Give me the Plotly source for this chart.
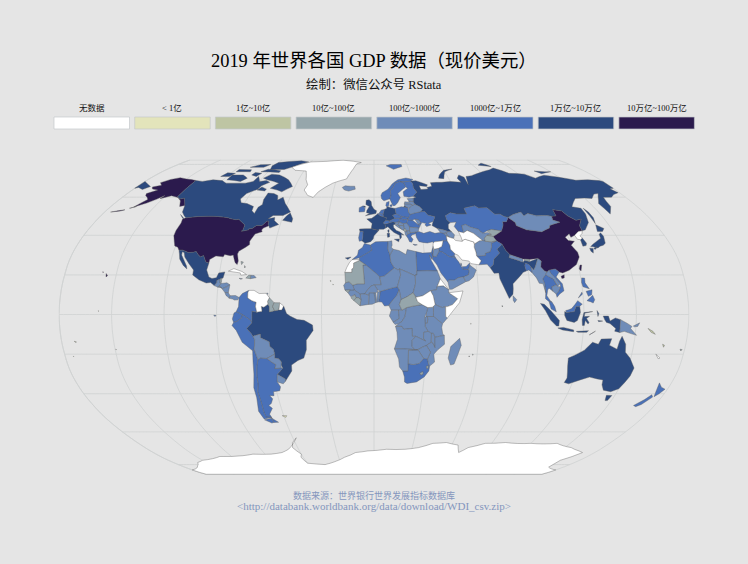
# -*- coding: utf-8 -*-
import plotly.graph_objects as go

W, H = 748, 564
BG = "#e5e5e5"
SERIF = "Liberation Serif, Noto Sans CJK SC, serif"

legend_labels = ["无数据", "< 1亿", "1亿~10亿", "10亿~100亿", "100亿~1000亿",
                 "1000亿~1万亿", "1万亿~10万亿", "10万亿~100万亿"]
legend_colors = ["#ffffff", "#e3e4bb", "#bec5a3", "#96a6ab",
                 "#6f8cb8", "#4a71b8", "#2c4a7e", "#2b1a4d"]

# countries per GDP class
no_data = ["ATA", "GRL", "VEN", "GUF", "CUB", "ESH", "SYR", "IRN", "TKM", "PRK", "ERI", "SSD", "SOM", "NCL", "PYF"]
under_1 = ["FLK", "KIR"]
from_1 = ["SLB", "VUT", "WSM", "TON", "CPV", "SYC"]
from_10 = ["MRT", "CAF", "GUY", "SUR", "KGZ", "TJK", "LSO", "SWZ", "GNB", "SLE", "LBR", "BTN", "MNE", "FJI", "BLZ", "HTI",
           "BHS", "MUS", "MDV"]
from_100 = ["ISL", "GTM", "HND", "SLV", "NIC", "CRI", "PAN", "DOM", "JAM", "BOL", "PRY", "URY", "LBY", "TUN", "MLI",
            "NER", "TCD", "SDN", "ETH", "KEN", "UGA", "RWA", "TZA", "CMR", "BEN", "TGO", "GHA", "BFA", "CIV", "GIN",
            "SEN", "GAB", "COG", "COD", "AGO", "ZMB", "MWI", "MOZ", "ZWE", "BWA", "NAM", "MDG", "HRV", "SVN", "BIH",
            "SRB", "ALB", "MKD", "BGR", "MDA", "BLR", "LTU", "LVA", "EST", "GEO", "ARM", "AZE", "LBN", "JOR", "YEM",
            "OMN", "UZB", "AFG", "NPL", "LKA", "MMR", "LAO", "KHM", "PNG", "MNG", "TTO"]
from_1000 = ["COL", "ECU", "PER", "ARG", "CHL", "IRL", "PRT", "BEL", "NLD", "CHE", "AUT", "CZE", "POL", "SVK", "HUN",
             "GRC", "ROU", "UKR", "DNK", "NOR", "SWE", "FIN", "TUR", "ISR", "IRQ", "KWT", "SAU", "ARE", "QAT", "KAZ",
             "PAK", "BGD", "THA", "VNM", "MYS", "PHL", "NZL", "MAR", "DZA", "EGY", "NGA", "ZAF"]
from_1w = ["CAN", "MEX", "BRA", "GBR", "FRA", "ESP", "DEU", "ITA", "RUS", "IND", "IDN", "JPN", "KOR", "AUS"]
from_10w = ["USA", "CHN"]
levels = [no_data, under_1, from_1, from_10, from_100, from_1000, from_1w, from_10w]

# rough country outlines in lon/lat, the built-in plotly map needs the network
outlines = {
    "USA": [
        [[-124.7,48.4],[-123,49],[-95.2,49],[-94.6,48.7],[-89.6,48],[-88,48.3],[-84.8,46.5],[-82.5,45.3],[-82.4,43],[-83.1,42.1],[-79,42.8],[-79,43.3],[-76.8,43.6],[-75,45],[-71.5,45],[-70.3,46.2],[-69.2,47.4],[-67.8,47.1],[-67.8,45.7],[-67,44.9],[-70,43.7],[-70.7,42.7],[-70,41.8],[-71.5,41.4],[-74,40.7],[-75.2,38.5],[-76,37],[-75.5,35.3],[-77.5,34],[-81,32],[-81.4,30.5],[-80.1,27],[-80.4,25.2],[-81.8,26.2],[-82.8,28],[-83.8,30],[-85.5,29.7],[-89,30.3],[-89.5,29.2],[-91,29.3],[-94,29.6],[-97.2,27.8],[-97.2,26],[-99.2,26.5],[-101.4,29.8],[-103,29],[-104.7,30.2],[-106.5,31.8],[-108.2,31.4],[-111,31.3],[-114.8,32.5],[-117.1,32.5],[-118.5,34],[-120.6,34.6],[-122,36.8],[-124,39.8],[-124.4,42.5],[-124,46.3]],
        [[-141,69.6],[-141,60.3],[-137.5,59],[-135,59.5],[-130,55.5],[-133,55],[-136,58],[-140,59.8],[-146,60.8],[-149,60],[-152,59.2],[-151,61],[-154,58.8],[-158,56.8],[-164,54.7],[-160,58.7],[-162,59.8],[-165,61],[-166,62],[-161,64],[-166,64.6],[-168,65.7],[-163,66.8],[-166.5,68.3],[-162,70.2],[-156.5,71.3],[-150,70.5]],
        [[-156,20.7],[-154.9,19.6],[-155.7,19]], [[-158.3,21.6],[-157.7,21.4],[-158.1,21.2]], [[-176,52],[-168,53.2],[-170,52.6]], [[-166,54],[-162.5,55],[-165,54.2]],
    ],
    "CAN": [
        [[-141,69.6],[-135,69],[-128,70],[-120,69.5],[-115,68],[-108,68],[-100,68],[-95,69],[-94,72],[-90,69],[-85,69.5],[-81.5,68.5],[-86,66.5],[-87,64.5],[-93,62],[-94.7,59],[-92.5,57],[-88,56.5],[-82.5,55],[-82,52.7],[-79.5,51.3],[-79,54.5],[-77,56],[-78,58.7],[-77.5,62.3],[-73,62],[-69.5,61],[-68,58.5],[-65,60],[-61.5,56.5],[-57,53],[-55.8,52],[-60,50.2],[-66.5,50.2],[-69,48.5],[-65,49.2],[-64.5,47.5],[-61,45.5],[-66,43.7],[-67,44.9],[-67.8,45.7],[-67.8,47.1],[-69.2,47.4],[-70.3,46.2],[-71.5,45],[-75,45],[-76.8,43.6],[-79,43.3],[-79,42.8],[-83.1,42.1],[-82.4,43],[-82.5,45.3],[-84.8,46.5],[-88,48.3],[-89.6,48],[-94.6,48.7],[-95.2,49],[-123,49],[-125,50],[-128,52],[-130,55.5],[-135,59.5],[-137.5,59],[-141,60.3]],
        [[-62,66],[-68,63],[-72,64],[-78,65],[-74,68],[-85,70],[-89,71],[-85,73.5],[-78,73],[-68,70]],
        [[-117,70],[-105,69],[-102,71],[-108,73],[-117,73]],
        [[-90,76.5],[-78,76.5],[-72,78.5],[-62,82],[-70,83],[-90,81.5],[-92,79]],
        [[-125,72],[-118,72],[-116,74],[-123,74.3]], [[-96,75],[-80,74.5],[-80,75.7],[-92,76.7]],
        [[-117,75],[-105,75],[-106,76.3],[-117,76.5]], [[-59.3,47.7],[-53,46.7],[-53,48.5],[-55.7,51.5],[-57.5,50]],
        [[-128,50.7],[-123.5,48.4],[-125,48.8]], [[-87,64],[-81,63.5],[-80.5,64.5],[-85,65.8]],
        [[-101,73],[-96,72],[-94,74],[-100,74.5]], [[-110,78],[-98,78],[-95,80],[-104,79.8]],
    ],
    "GRL": [[[-73,78],[-68,76],[-58,75.5],[-54,70],[-51,67],[-52,64],[-48,61],[-43.5,59.9],[-41,63],[-32,68],[-22,70.5],[-20,74],[-18,77],[-16,80.5],[-12,81.5],[-30,83.5],[-45,82.5],[-60,82],[-66,80.5]]],
    "MEX": [[[-117.1,32.5],[-114.8,32.5],[-111,31.3],[-108.2,31.4],[-106.5,31.8],[-104.7,30.2],[-103,29],[-101.4,29.8],[-99.2,26.5],[-97.2,26],[-97.8,22.5],[-95.9,18.9],[-94,18.2],[-91.5,18.6],[-90.5,21],[-87,21.5],[-87.6,18.5],[-89.2,17.9],[-91,17.2],[-90.9,16],[-92.2,14.6],[-94.5,16.2],[-97,15.9],[-101.5,17.5],[-105.5,20],[-105.5,22.5],[-109,25.8],[-112.3,29],[-113.5,31.3],[-114.8,31.7],[-114.5,30],[-110,24.5],[-109.5,23],[-112,24.8],[-115,28],[-116,30.5]]],
    "GTM": [[[-92.2,14.6],[-90.9,16],[-91,17.2],[-89.2,17.9],[-89,15.9],[-88.2,15.7],[-89.4,14.4],[-90,13.8]]],
    "BLZ": [[[-89.2,17.9],[-88.3,18.4],[-88.2,16.2],[-89,15.9]]],
    "HND": [[[-89.4,14.4],[-88.2,15.7],[-85,16],[-83.2,15],[-85,14],[-87.5,13]]],
    "SLV": [[[-90,13.8],[-89.4,14.4],[-87.7,13.5]]],
    "NIC": [[[-87.5,13],[-85,14],[-83.2,15],[-83.7,11],[-85.7,11.1]]],
    "CRI": [[[-85.7,11.1],[-83.7,11],[-82.6,9.5],[-83,8.2],[-85,9.7]]],
    "PAN": [[[-83,8.2],[-82.6,9.5],[-79.5,9.6],[-77.4,8.6],[-78,7.4],[-80,7.3],[-81,7.8]]],
    "CUB": [[[-85,21.9],[-82,23.2],[-77,21.7],[-74.2,20.2],[-77.5,19.9],[-78,21]]],
    "HTI": [[[-74.4,18.4],[-72.8,19.9],[-71.7,19.8],[-71.7,18.1]]],
    "DOM": [[[-71.7,19.8],[-69.7,19.7],[-68.4,18.6],[-71.7,18.1]]],
    "JAM": [[[-78.3,18.3],[-76.3,18.1],[-77.2,17.8]]],
    "BHS": [[[-78.5,26.8],[-77,26.5],[-77.8,25.2]], [[-76,24.7],[-75.3,24],[-75.8,23.5]]],
    "TTO": [[[-61.9,10.7],[-60.9,10.8],[-61,10.1]]],
    "COL": [[[-77.4,8.6],[-75.6,10.6],[-72,12.2],[-72.5,11],[-72.4,8.3],[-70,7],[-67.5,6.2],[-67.8,4],[-67,1.2],[-69.8,1.7],[-69.9,-4.2],[-70.8,-2.7],[-75.2,-0.1],[-78.8,1.4],[-77.5,4],[-77.4,7]]],
    "VEN": [[[-72,12.2],[-69,12.2],[-66,10.6],[-62,10.7],[-60,8.5],[-61,6.7],[-60.7,5.2],[-63,3.7],[-64.5,4.1],[-64,1.7],[-67,1.2],[-67.8,4],[-67.5,6.2],[-70,7],[-72.4,8.3],[-72.5,11]]],
    "GUY": [[[-60,8.5],[-57.2,6],[-58,4],[-56.8,1.9],[-59.8,1.3],[-59.9,4],[-60.7,5.2],[-61,6.7]]],
    "SUR": [[[-57.2,6],[-54,5.9],[-54.2,3.5],[-54.5,2.3],[-56.8,1.9],[-58,4]]],
    "GUF": [[[-54,5.9],[-51.7,4.3],[-52.8,2.3],[-54.5,2.3],[-54.2,3.5]]],
    "ECU": [[[-80,0.8],[-78.8,1.4],[-75.2,-0.1],[-75.6,-1.6],[-78.3,-3.4],[-80.3,-4],[-81,-2.2]], [[-91.6,-0.3],[-90.2,-0.5],[-91,-1]]],
    "PER": [[[-80.3,-4],[-78.3,-3.4],[-75.6,-1.6],[-75.2,-0.1],[-70.8,-2.7],[-69.9,-4.2],[-73,-7],[-70.6,-9.5],[-69.6,-11],[-68.7,-12.5],[-69,-15.5],[-69.5,-17.5],[-70.4,-18.3],[-76,-14],[-79,-8],[-81.3,-5.5]]],
    "BRA": [[[-51.7,4.3],[-50,0.5],[-48,-0.8],[-44,-2.5],[-40,-2.9],[-35.2,-5.3],[-34.9,-8],[-39,-13],[-39.2,-17.8],[-41,-22],[-44.5,-23.2],[-48.5,-25.5],[-48.7,-28.5],[-52,-32.2],[-53.4,-33.7],[-53.2,-32.5],[-57.6,-30.2],[-53.8,-27.1],[-54.6,-25.5],[-54.3,-24],[-55.7,-22.3],[-58,-22],[-57.8,-20],[-58.2,-17.7],[-60.2,-16.2],[-60.4,-13.8],[-65.3,-11.7],[-65.3,-9.8],[-69.6,-11],[-70.6,-9.5],[-73,-7],[-69.9,-4.2],[-69.8,1.7],[-67,1.2],[-64,1.7],[-64.5,4.1],[-63,3.7],[-60.7,5.2],[-59.9,4],[-59.8,1.3],[-56.8,1.9],[-54.5,2.3],[-52.8,2.3]]],
    "BOL": [[[-69.6,-11],[-65.3,-9.8],[-65.3,-11.7],[-60.4,-13.8],[-60.2,-16.2],[-58.2,-17.7],[-57.8,-20],[-62.6,-22.2],[-66.3,-21.9],[-67.9,-22.8],[-69.5,-17.5],[-69,-15.5],[-68.7,-12.5]]],
    "PRY": [[[-62.6,-22.2],[-57.8,-20],[-58,-22],[-55.7,-22.3],[-54.3,-24],[-54.6,-25.5],[-54.7,-27],[-58.6,-27.3],[-57.6,-25.3],[-60,-24]]],
    "URY": [[[-57.6,-30.2],[-53.2,-32.5],[-53.4,-33.7],[-55,-35],[-58.4,-34]]],
    "ARG": [[[-67.9,-22.8],[-66.3,-21.9],[-62.6,-22.2],[-60,-24],[-57.6,-25.3],[-58.6,-27.3],[-54.7,-27],[-53.8,-27.1],[-57.6,-30.2],[-58.4,-34],[-57,-36.5],[-58,-38.5],[-62,-39],[-62.3,-41],[-65,-41],[-63.7,-42.6],[-65.5,-45],[-67.5,-46],[-65.8,-47.5],[-69,-50.5],[-68.4,-52.3],[-71.9,-52],[-72.3,-50],[-71.6,-44],[-71.8,-39],[-70.3,-35],[-70,-31],[-69,-26]],
            [[-68.6,-52.6],[-65.2,-54.8],[-68.6,-54.9]]],
    "CHL": [[[-69.5,-17.5],[-67.9,-22.8],[-69,-26],[-70,-31],[-70.3,-35],[-71.8,-39],[-71.6,-44],[-72.3,-50],[-71.9,-52],[-68.4,-52.3],[-74,-53],[-75.5,-49],[-73.5,-42],[-73.5,-37],[-71.5,-30],[-70.4,-18.3]],
            [[-68.6,-52.6],[-68.6,-54.9],[-70,-55.2],[-74,-53.5]]],
    "FLK": [[[-61,-51.3],[-58,-51.3],[-59,-52.2]]],
    "ISL": [[[-24,65.5],[-22,64],[-18.7,63.4],[-14,64.5],[-14.7,66.2],[-18,66.2],[-22,66.4]]],
    "IRL": [[[-10,52],[-6.4,52.2],[-6,53.8],[-7.4,55.3],[-10,54.3]]],
    "GBR": [[[-5.6,50.1],[1.3,51.2],[1.7,52.7],[0,53.5],[-1.6,55.5],[-2,57.6],[-3.5,58.6],[-5.5,58.3],[-5.6,56],[-3.2,54.9],[-4.8,52.8],[-5,51.7],[-3,51.3]],
            [[-8,54.5],[-5.6,54.6],[-6.3,55.2],[-7.4,55.2]]],
    "FRA": [[[-1.8,43.4],[-1.2,46],[-4.7,48.4],[-1.5,48.7],[0.2,49.7],[2.5,51.1],[4.2,50],[6.1,49.5],[8.2,49],[7.6,47.6],[6,46.3],[7,45.8],[7.5,43.8],[6,43.1],[3.1,43.1],[3,42.5]],
            [[8.6,42.5],[9.5,43],[9.4,41.5],[8.8,41.6]]],
    "ESP": [[[-9.2,43.2],[-1.8,43.4],[3,42.5],[0,39.8],[-0.5,38.2],[-2,36.8],[-5.4,36],[-7.4,37.2],[-7,38.5],[-6.8,41.9],[-8.8,41.9]], [[-17,28.6],[-13.6,29],[-15.5,27.8]]],
    "PRT": [[[-8.8,41.9],[-6.8,41.9],[-7,38.5],[-7.4,37.2],[-9,37],[-9.5,38.8]]],
    "BEL": [[[2.5,51.1],[4.2,51.4],[6,50.7],[6.1,49.5],[4.2,50]]],
    "NLD": [[[3.4,51.4],[4.8,53],[7,53.4],[6,50.8],[4.2,51.4]]],
    "DEU": [[[6,50.8],[7,53.4],[8.7,54],[8.7,54.9],[11,54.4],[14.2,53.9],[14.7,51],[12.2,50.3],[13.8,48.7],[10,47.4],[7.6,47.6],[8.2,49],[6.1,49.5]]],
    "CHE": [[[6,46.3],[7.6,47.6],[9.6,47.5],[10.4,46.6],[8.5,46],[7,45.8]]],
    "ITA": [[[7,45.8],[8.5,46],[10.4,46.6],[12.2,47],[13.7,46.5],[13.6,45.7],[12.3,45.3],[12.5,44],[14,42.5],[16,41.8],[18.5,40.2],[16.9,40.4],[17,39],[16,38],[15.8,40],[12.5,41.5],[10.5,43],[8.8,44.4],[7.5,43.8]],
            [[12.5,38],[15.6,38.2],[15.1,36.7]], [[8.2,41],[9.7,41],[9.6,39.2],[8.4,39]]],
    "AUT": [[[9.6,47.5],[10,47.4],[13.8,48.7],[17,48.8],[16.1,46.9],[13.7,46.5],[12.2,47],[10.4,46.6]]],
    "CZE": [[[12.2,50.3],[14.7,51],[18.8,49.5],[17,48.8],[13.8,48.7]]],
    "POL": [[[14.2,53.9],[18.6,54.8],[23,54.4],[23,52],[24,50.8],[22.7,49.1],[18.8,49.5],[14.7,51]]],
    "SVK": [[[17,48.8],[18.8,49.5],[22.7,49.1],[22.1,48.4],[18.8,47.8]]],
    "HUN": [[[16.1,46.9],[17,48.8],[18.8,47.8],[22.1,48.4],[21,46.2],[18.8,45.9]]],
    "SVN": [[[13.6,45.5],[13.7,46.5],[16.1,46.9],[15.5,45.6]]],
    "HRV": [[[13.6,45.2],[15.5,45.6],[16.1,46.9],[18.8,45.9],[19,45],[15.8,45],[17.5,43],[15,44.3]]],
    "BIH": [[[15.8,45],[19,45],[19.2,43.5],[18.5,42.5],[17.5,43]]],
    "SRB": [[[19,45],[18.8,45.9],[21,46.2],[22.5,44.2],[22.4,42.3],[20.5,42.3],[20.3,42.8],[19.2,43.5]]],
    "MNE": [[[18.5,42.5],[19.2,43.5],[20.3,42.8],[19.3,41.9]]],
    "ALB": [[[19.3,41.9],[20.5,42.3],[21,40.7],[20,39.7],[19.4,40.5]]],
    "MKD": [[[20.5,42.3],[22.4,42.3],[23,41.3],[21,40.9]]],
    "GRC": [[[20,39.7],[21,40.7],[23,41.3],[26.3,41.7],[26,40.8],[23.5,40.2],[22.8,39.3],[24,38],[23,36.5],[21.7,36.8],[21,38.4]],
            [[23.6,35.5],[26.3,35.2],[24.8,34.9]]],
    "BGR": [[[22.4,42.3],[22.5,44.2],[28.5,43.7],[27.7,42],[26.3,41.7],[23,41.3]]],
    "ROU": [[[21,46.2],[22.1,48],[24.9,47.8],[28.1,45.5],[29.6,45],[28.5,43.7],[22.5,44.2]]],
    "MDA": [[[26.6,48.3],[29,47.9],[30,46.4],[28.2,45.5]]],
    "UKR": [[[22.1,48.4],[22.7,49.1],[24,50.8],[27,51.5],[31,52.1],[34,52.3],[35.5,50.4],[40,49.6],[38.2,47.1],[35,46.2],[36.5,45.3],[33.5,44.5],[32.5,45.4],[33.5,46],[30.8,46.5],[29.7,45.3],[28.2,45.5],[30,46.4],[29,47.9],[26.6,48.3],[24.9,47.8],[22.1,48]]],
    "BLR": [[[23.5,53.9],[26,55.5],[28.2,56.1],[31,55],[32.7,53.4],[31,52.1],[27,51.5],[24,50.8],[23,52]]],
    "LTU": [[[21,55.3],[21,56.4],[25,56.4],[26.6,55.7],[26,55.5],[23.5,53.9],[23,54.4]]],
    "LVA": [[[21,56.4],[21.5,57.5],[24.4,57.3],[24.4,58],[27.4,57.5],[28.2,56.1],[26.6,55.7],[25,56.4]]],
    "EST": [[[23.5,59.2],[28,59.5],[27.4,57.5],[24.4,58]]],
    "DNK": [[[8.1,55.5],[8.7,57.1],[10.6,57.7],[10.3,56],[9.8,54.9],[8.7,54.9]], [[11,55.7],[12.5,56],[12.3,55],[11,55]]],
    "NOR": [[[5,61],[5.5,59],[7,58],[10.7,59],[11.2,59],[12.3,61],[12,63.5],[14.5,65.5],[16.5,68],[20.5,69],[25,68.8],[29,69.2],[31,70.2],[25.7,71.1],[19,70],[14,67.5],[10.5,64.5],[6,62.5]],
            [[11,79],[17,76.6],[25,78.5],[25,80],[15,80]]],
    "SWE": [[[11.2,59],[13,55.4],[14.5,55.5],[16.5,57],[18.8,59.8],[17.3,62],[21.5,64.5],[24.1,65.8],[23.6,67.9],[20.5,69],[16.5,68],[14.5,65.5],[12,63.5],[12.3,61]]],
    "FIN": [[[21.5,60.5],[25,60],[28,60.5],[31.5,62.8],[29.7,65.2],[30,67.7],[28.9,69],[29,69.2],[25,68.8],[20.5,69],[23.6,67.9],[24.1,65.8],[25.3,65],[21.5,63]]],
    "RUS": [
        [[28,59.5],[30,60],[28,60.5],[31.5,62.8],[29.7,65.2],[30,67.7],[28.9,69],[29,69.2],[33,69.4],[41,67],[40,66],[34.5,66.5],[35,64.3],[38,64.5],[40.5,64.6],[40,65.5],[44,66.2],[44,68.3],[53,68.5],[60,69],[68,68.5],[67,71],[70,73],[73,71.5],[72.5,67],[75,72],[80,72.5],[87,74],[100,76.3],[105,77.5],[113,74],[125,73.5],[130,71],[140,72.8],[150,71.5],[160,69.7],[170,70],[178,69.5],[180,69],[180,65],[177,64.7],[179,62.5],[174,61.5],[170,60],[164,59.9],[162.8,57.7],[162,55],[158,52],[156.7,51],[155.7,56.5],[158,58.2],[163.5,62],[160,61.7],[155,59.3],[150,59.5],[143,59.3],[135.2,54.8],[140.5,54],[140.3,51],[138,46.5],[133,42.8],[130.7,42.3],[131,44.9],[135,48.4],[131,47.7],[127.5,50],[126,52.6],[120.5,53.3],[119.8,50],[116.7,49.8],[114,50.2],[107,50],[102.2,51.3],[98.7,50],[98,52],[92,50.7],[87.8,49.2],[85.5,49.7],[83.4,51],[80,50.8],[76.8,54.3],[71,54.2],[69,55.3],[61,54],[61.5,51],[54.5,51],[50.8,51.7],[47,50],[47.3,48],[49,46.5],[47.5,45.5],[47,43.5],[48.5,41.8],[46.5,41.9],[43.5,42.8],[40,43.5],[37,45],[38.2,47.1],[40,49.6],[35.5,50.4],[34,52.3],[31,52.1],[32.7,53.4],[31,55],[28.2,56.1],[27.4,57.5]],
        [[-180,65],[-180,69],[-175,67.5],[-170,66],[-173,64.3],[-178,65.5]],
        [[142,54],[143.3,52],[143.5,49],[142,46],[142,50]], [[52,71],[56,70.7],[60,75],[68,76.8],[60,76],[54,73]],
        [[95,79.5],[105,78.5],[100,81]], [[137,75.5],[145,75],[150,75],[140,73.8]], [[20,54.4],[22.8,54.4],[21,55.3]],
    ],
    "TUR": [[[26,40.8],[26.3,41.7],[28,42],[31,41],[35,42],[38,41],[41.5,41.5],[43.5,41],[44.8,39.7],[44.8,37.2],[42.3,37.2],[37,36.7],[36,36],[36,36.8],[32.5,36.1],[30.5,36.3],[27.5,36.8],[26.2,39]]],
    "GEO": [[[40,43.5],[43.5,42.8],[46.5,41.9],[45,41.2],[43.5,41],[41.5,41.5]]],
    "ARM": [[[43.5,41],[45,41.2],[46.5,39],[44.8,39.7]]],
    "AZE": [[[45,41.2],[46.5,41.9],[48.5,41.8],[50,40.3],[49,38.4],[46.5,39]]],
    "SYR": [[[36,36],[37,36.7],[42.3,37.2],[41,34.4],[38.8,33.4],[36,33],[35.8,34.7]]],
    "LBN": [[[35.1,33.1],[36,33.3],[36.5,34.2],[35.8,34.7]]],
    "ISR": [[[34.3,31.3],[35,29.5],[35.5,31.5],[35.6,33.2],[35.1,33.1]]],
    "JOR": [[[35,29.5],[36.9,29.2],[37.5,30],[39,32],[38.8,33.4],[36,33],[35.5,31.5]]],
    "IRQ": [[[38.8,33.4],[41,34.4],[42.3,37.2],[44.8,37.2],[46,35],[46,33],[48.5,30.5],[47.7,30],[46.5,29.1],[44.7,29.2],[41,31.5],[39,32]]],
    "KWT": [[[46.5,29.1],[47.7,30],[48.4,28.5]]],
    "SAU": [[[34.6,28],[35,29.5],[36.9,29.2],[37.5,30],[39,32],[41,31.5],[44.7,29.2],[46.5,29.1],[48.4,28.5],[50,26.5],[51,24.6],[52,23],[55.2,22.7],[55.7,22],[55,20],[52,19],[49,18.6],[46.5,17.3],[43.3,17.4],[42.8,16.4],[39,21],[37,25]]],
    "YEM": [[[42.8,16.4],[43.3,17.4],[46.5,17.3],[49,18.6],[52,19],[53.1,16.6],[45,12.8],[43.5,12.7]]],
    "OMN": [[[52,19],[55,20],[55.7,22],[55.2,22.7],[56.3,24.9],[59.8,22.5],[57.8,19],[55,17],[53.1,16.6]]],
    "ARE": [[[51.6,24.1],[54,24.2],[56.3,26],[56.3,24.9],[55.2,22.7],[52,23]]],
    "QAT": [[[50.8,24.8],[51.2,26.1],[51.6,24.8]]],
    "IRN": [[[44.8,39.7],[46.5,39],[49,38.4],[50,37.4],[54,36.9],[54,37.4],[56,38],[61,36.6],[61,35.6],[60.5,34],[61,31.4],[61,29.5],[63.3,27.2],[61.6,25.1],[57,25.7],[56,27],[52,27.5],[50,30],[48.5,30.5],[46,33],[46,35],[44.8,37.2]]],
    "TKM": [[[53,41.5],[52.8,42],[56,41.3],[58.5,42.5],[62,41],[66.5,37.4],[64.5,37.2],[61,35.6],[61,36.6],[56,38],[54,37.4],[53.8,39]]],
    "UZB": [[[56,45],[56,41.3],[58.5,42.5],[62,41],[66.5,37.4],[68,37],[68,38.5],[70,40],[73,40.5],[71,41.5],[68,41],[66.5,42],[66,43],[61,44.2],[58.6,45.5]]],
    "KAZ": [[[47,50],[50.8,51.7],[54.5,51],[61.5,51],[61,54],[69,55.3],[71,54.2],[76.8,54.3],[80,50.8],[83.4,51],[85.5,49.7],[87.8,49.2],[85.5,47],[83,47],[82.5,45.3],[80,42.2],[74,43],[71,42.3],[68,41],[66.5,42],[66,43],[61,44.2],[58.6,45.5],[56,45],[56,41.3],[52.8,42],[51,44.5],[53,46.8],[49,46.5],[47.3,48]]],
    "KGZ": [[[71,42.3],[74,43],[80,42.2],[76,40.4],[73.6,39.4],[70,40],[73,40.5]]],
    "TJK": [[[68,38.5],[70,40],[73.6,39.4],[75,37.3],[71.5,36.7],[68,37]]],
    "AFG": [[[61,35.6],[64.5,37.2],[66.5,37.4],[68,37],[71.5,36.7],[74.8,37.2],[71.5,36],[71,34],[69.5,31.7],[66.5,31],[66.3,29.8],[61,29.5],[61,31.4],[60.5,34]]],
    "PAK": [[[61,29.5],[66.3,29.8],[66.5,31],[69.5,31.7],[71,34],[71.5,36],[74.8,37.2],[77.8,35.5],[74,33],[75,31],[71,28],[70,25],[68,23.7],[66.5,25.4],[61.6,25.1],[63.3,27.2]]],
    "IND": [[[68,23.7],[70,25],[71,28],[75,31],[74,33],[77.8,35.5],[79,32.5],[81,30.2],[80,28.8],[88,26.4],[88.9,27.3],[92,26.8],[97,28.3],[94.5,24],[93.3,22.5],[92,24],[91,25.2],[89,26],[88.5,24.5],[89,22],[87,21.3],[85,19.5],[80.3,15.5],[80.2,13],[79.8,10.3],[77.6,8.1],[75.5,12.5],[73,18],[72.8,21],[70,20.8]]],
    "NPL": [[[80,28.8],[81,30.2],[88,28],[88,26.4]]],
    "BTN": [[[88.9,27.3],[89,28],[92,27.8],[92,26.8]]],
    "BGD": [[[88.5,24.5],[89,26],[91,25.2],[92,24],[92.3,21],[90.5,22.5],[89,22]]],
    "LKA": [[[79.8,9.5],[81.8,7.5],[80.5,6],[79.8,7.2]]],
    "MDV": [[[73.2,4.5],[73.7,4.3],[73.4,3.8]]],
    "MMR": [[[92.3,21],[92,24],[93.3,22.5],[94.5,24],[97,28.3],[98.7,27],[97.7,24],[99.5,22],[101,21.5],[100,20.3],[97.8,18],[98.6,15.5],[98.7,11],[97.7,15.5],[95.5,15.8],[94.3,18.5]]],
    "THA": [[[97.8,18],[100,20.3],[101,19.5],[104,18],[105.5,15],[102.5,14],[102.9,11.7],[100.9,13.3],[100,12.5],[99.2,9.5],[101,7],[102,6.2],[100.3,6.5],[98.3,8],[98.7,11],[98.6,15.5]]],
    "LAO": [[[100,20.3],[101,21.5],[102.3,22.4],[103,20.7],[105,18.7],[107.5,15.5],[105.8,14.2],[105.5,15],[104,18],[101,19.5]]],
    "VNM": [[[102.3,22.4],[106,23],[108,21.5],[105.8,19],[108.8,15.5],[109.3,12],[106.7,10.4],[105,8.7],[104.6,10.4],[106,11.5],[107.5,14],[107.5,15.5],[105,18.7],[103,20.7]]],
    "KHM": [[[102.9,11.7],[102.5,14],[105.5,15],[105.8,14.2],[107.5,14],[106,11.5],[104.6,10.4]]],
    "MYS": [[[100.3,6.5],[102,6.2],[103.4,4],[104.2,1.4],[101.3,2.8]], [[109.6,2],[111.3,2.4],[113,3],[115,5],[116.7,7],[119.2,5.2],[117.7,4.2],[115.5,4],[114.5,1.5],[110,1]]],
    "IDN": [
        [[109,1.5],[110,1],[114.5,1.5],[115.5,4],[117.7,4.2],[118,1],[116.3,-3],[114.5,-4],[110.3,-3],[109,-0.5]],
        [[95.3,5.6],[97.5,5.2],[101,2],[104.5,-1.5],[106,-3],[105.8,-5.8],[104.5,-5.8],[101,-2.8],[98,2]],
        [[105.3,-6.8],[108.5,-6.5],[114.5,-7.8],[114.5,-8.7],[108,-7.8]],
        [[119.3,-5.5],[120.4,-5.5],[120.8,-3],[122.5,-4.8],[123,-4],[121.5,-2],[123.2,-0.9],[120.2,-1],[120.5,0.7],[125,1.5],[120,1],[119,-2.5]],
        [[116,-8.5],[123,-8.2],[122,-9],[117,-9]], [[123.6,-10.3],[127,-8.4],[125,-9.5]], [[127.5,2],[128.5,0.5],[128,-1]],
        [[128,-3],[130.8,-3.3],[128.5,-3.6]], [[131,-0.8],[134,-0.8],[135,-3.3],[138,-1.7],[141,-2.6],[141,-9.1],[138,-8.4],[138.5,-7],[135,-4.5],[133,-4],[132,-2.8]],
    ],
    "PNG": [[[141,-2.6],[145,-4.5],[147.7,-6],[147,-7],[150.8,-10.5],[147,-9.5],[143.5,-8.5],[141,-9.1]], [[148.5,-5.8],[152,-4.2],[151,-6],[149,-6.2]]],
    "PHL": [[[120.5,18.5],[122.2,18.4],[122,16],[124,13],[120.5,14],[120,16.2]], [[122,7],[125.5,9.7],[126.5,7.5],[125.5,5.8],[124,6.5]],
            [[122,11.7],[125.5,12.5],[125,10],[123,9.2]], [[117.2,8.4],[119.5,11.3],[119.7,10.3]]],
    "CHN": [
        [[73.6,39.4],[76,40.4],[80,42.2],[82.5,45.3],[83,47],[85.5,47],[87.8,49.2],[91,46.5],[90.7,45],[96,42.8],[105,41.8],[111,43.7],[112,45],[119.8,46.7],[116,47.8],[116.7,49.8],[119.8,50],[120.5,53.3],[126,52.6],[127.5,50],[131,47.7],[135,48.4],[131,44.9],[130.7,42.3],[128,42],[124.4,40],[121.5,39],[121.5,40.8],[118,39],[119,37.4],[122.5,37],[119.5,35],[121.8,31.5],[121.8,29],[119,25.3],[114,22.3],[110,21],[108,21.5],[106,23],[102.3,22.4],[101,21.5],[99.5,22],[97.7,24],[98.7,27],[97,28.3],[92,27.8],[89,28],[88,28],[81,30.2],[79,32.5],[77.8,35.5],[74.8,37.2]],
        [[120.1,23],[121,25],[122,25],[120.9,22]], [[108.7,19.3],[110.7,20.1],[110.4,18.5],[109,18.2]],
    ],
    "MNG": [[[87.8,49.2],[92,50.7],[98,52],[98.7,50],[102.2,51.3],[107,50],[114,50.2],[116.7,49.8],[116,47.8],[119.8,46.7],[112,45],[111,43.7],[105,41.8],[96,42.8],[90.7,45],[91,46.5]]],
    "PRK": [[[124.4,40],[128,42],[130.7,42.3],[129.7,41],[127.5,39.7],[128.3,38.6],[126.7,37.8],[125,38]]],
    "KOR": [[[126.7,37.8],[128.3,38.6],[129.4,36],[128.5,34.8],[126.4,34.5]]],
    "JPN": [[[131,34.3],[133,35.5],[136.8,37.3],[139.5,38.5],[140,40.5],[141.4,41.3],[142,39.5],[140.8,36],[139,35],[136.8,34.5],[135,33.6],[132.5,34.2]],
            [[140,42],[141.7,45.4],[145.3,43.5],[143.2,42]], [[130,33.5],[132,33.3],[131,31],[130,32]], [[132.5,33.5],[134.5,34.2],[134,33.4],[132.8,32.8]]],
    "MAR": [[[-5.9,35.8],[-2.2,35.1],[-1.2,32.5],[-5,30.5],[-8.7,28.7],[-13,27.7],[-9.8,30],[-9.3,32.5],[-7,33.8]]],
    "ESH": [[[-13,27.7],[-8.7,27.7],[-8.7,27.3],[-12,26],[-12,23.5],[-13,23],[-13,21.3],[-17,21.3],[-16,23.7],[-14.5,26.2]]],
    "MRT": [[[-17,21.3],[-13,21.3],[-13,23],[-12,23.5],[-12,26],[-8.7,27.3],[-4.8,25],[-6.5,25],[-5.5,15.5],[-9.5,15.5],[-12.2,14.8],[-14.5,16.6],[-16.5,16]]],
    "DZA": [[[-2.2,35.1],[1,36.7],[8.6,36.9],[8.3,33],[9.5,30.2],[9.9,26.5],[11.9,23.5],[6,19.4],[3.3,19],[1.2,20.7],[-4.8,25],[-8.7,27.3],[-8.7,28.7],[-5,30.5],[-1.2,32.5]]],
    "TUN": [[[8.6,36.9],[10.9,37.2],[11,35],[10.5,34],[11.5,33],[9.5,30.2],[8.3,33]]],
    "LBY": [[[11.5,33],[15,32.3],[19,30.3],[20,32.8],[25,31.8],[25,20],[24,20],[24,19.5],[15,23],[14,22.5],[11.9,23.5],[9.9,26.5],[9.5,30.2]]],
    "EGY": [[[25,31.8],[29,31],[34.3,31.3],[35,29.5],[34.3,27.8],[33,29.9],[33.7,27.5],[37,22],[25,22]]],
    "MLI": [[[-12.2,14.8],[-9.5,15.5],[-5.5,15.5],[-6.5,25],[-4.8,25],[1.2,20.7],[3.3,19],[4.2,15],[0.2,15],[-2,14.2],[-5.5,10.4],[-8,10.3],[-11.4,12.4]]],
    "NER": [[[0.2,15],[4.2,15],[3.3,19],[6,19.4],[11.9,23.5],[14,22.5],[15,23],[15.5,20],[13.5,14],[10,13.3],[3.6,11.7],[2,12.5]]],
    "TCD": [[[13.5,14],[15.5,20],[15,23],[24,19.5],[24,15.5],[22.5,11],[19,9],[15.5,7.5],[14.5,12.5]]],
    "SDN": [[[24,19.5],[24,20],[25,20],[25,22],[37,22],[38.5,18],[36.5,14.3],[36,12.5],[32.5,12],[28,9.5],[24,8.7],[22.5,11],[24,15.5]]],
    "SSD": [[[24,8.7],[28,9.5],[32.5,12],[34,9.5],[35,5],[34,4.2],[33.5,3.7],[30.8,3.5],[27.5,5],[25,6.5]]],
    "ERI": [[[36.5,14.3],[38.5,18],[43,12.6],[40,14.5]]],
    "ETH": [[[32.5,12],[36,12.5],[36.5,14.3],[40,14.5],[43,12.6],[43,11],[48,8],[45,5],[42,4],[41,4],[39,3.5],[35,5],[34,9.5]]],
    "SOM": [[[43,11],[51.2,11.9],[49,6],[42,-1.7],[41,-1],[41,4],[42,4],[45,5],[48,8]]],
    "KEN": [[[34,4.2],[35,5],[39,3.5],[41,4],[41,-1],[42,-1.7],[39.2,-4.7],[34,-1],[34,1]]],
    "UGA": [[[30.8,3.5],[33.5,3.7],[34,4.2],[34,1],[34,-1],[30.5,-1],[29.7,-1.4],[30,1]]],
    "RWA": [[[29,-1.4],[30.5,-1],[30.8,-2.5],[30.5,-4.4],[29.3,-4.4]]],
    "TZA": [[[30.5,-1],[34,-1],[39.2,-4.7],[38.8,-6.5],[39.5,-10],[40.4,-10.5],[35,-11.5],[34,-9.5],[33,-9.5],[31,-8.5],[29.3,-6],[29.3,-4.4],[30.5,-4.4],[30.8,-2.5]]],
    "CAF": [[[14.5,5],[15.5,7.5],[19,9],[22.5,11],[24,8.7],[25,6.5],[27.5,5],[22,4.2],[18.6,3.5],[16,2.2]]],
    "CMR": [[[8.5,4.5],[10,6.5],[13,9.5],[14.5,12.5],[15.5,7.5],[14.5,5],[16,2.2],[14,2.2],[9.8,2.2]]],
    "NGA": [[[2.7,6.4],[3.6,11.7],[10,13.3],[13.5,14],[14.5,12.5],[13,9.5],[10,6.5],[8.5,4.5],[6,4.3],[4.5,6.3]]],
    "BEN": [[[1.6,6.2],[2,11.4],[3.6,11.7],[2.7,6.4]]],
    "TGO": [[[0.9,6],[0,11],[1,11],[1.6,6.2]]],
    "GHA": [[[-3.1,5.1],[-2.8,11],[0,11],[0.9,6],[-1,5.2]]],
    "BFA": [[[-5.5,10.4],[-2,14.2],[0.2,15],[2,12.5],[2,11.4],[1,11],[-2.8,11],[-3,9.8]]],
    "CIV": [[[-8,4.4],[-3.1,5.1],[-3,9.8],[-5.5,10.4],[-8,10.3],[-7.5,7.5]]],
    "LBR": [[[-11.5,7],[-8,4.4],[-7.5,7.5],[-9,8.5],[-10.3,8.5]]],
    "SLE": [[[-13.3,8.5],[-11.5,7],[-10.3,8.5],[-11,10]]],
    "GIN": [[[-15,11],[-13.7,12.5],[-11.4,12.4],[-8,10.3],[-7.5,7.5],[-9,8.5],[-10.3,8.5],[-11,10],[-13.3,9]]],
    "GNB": [[[-16.7,12.3],[-13.7,12.5],[-15,11]]],
    "SEN": [[[-17.5,14.7],[-16.5,16],[-14.5,16.6],[-12.2,14.8],[-11.4,12.4],[-16.7,12.3]]],
    "GAB": [[[8.8,-0.7],[9.8,2.2],[14,2.2],[14.5,-2],[11,-3.9]]],
    "COG": [[[11,-3.9],[14.5,-2],[14,2.2],[16,2.2],[18.6,3.5],[17.7,-1],[16,-3.5],[14,-4.7],[12,-5]]],
    "COD": [[[12.3,-6],[14,-4.7],[16,-3.5],[17.7,-1],[18.6,3.5],[22,4.2],[27.5,5],[30.8,3.5],[30,1],[29,-1.4],[29.3,-4.4],[29.3,-6],[31,-8.5],[28.5,-9],[28.5,-12],[29.8,-13.4],[24,-11],[22,-11],[21.8,-7],[17,-7.5],[16,-6]]],
    "AGO": [[[12.3,-6],[16,-6],[17,-7.5],[21.8,-7],[22,-11],[24,-11],[22,-13],[22,-16],[23.4,-17.6],[18,-17.4],[11.8,-17.3],[13.5,-12.5],[13.2,-9]]],
    "ZMB": [[[22,-13],[24,-11],[29.8,-13.4],[28.5,-12],[28.5,-9],[31,-8.5],[33,-9.5],[33,-14],[30.3,-15.6],[28,-16.5],[25.3,-17.8],[23.4,-17.6],[22,-16]]],
    "MWI": [[[33,-9.5],[34,-9.5],[35,-11.5],[35.3,-16.8],[34,-14.5],[33,-14]]],
    "MOZ": [[[40.4,-10.5],[40.7,-15],[37,-17.8],[34.8,-20],[35.5,-24],[32.8,-26],[32,-25],[31.3,-22.4],[32.8,-19],[30.3,-15.6],[33,-14],[34,-14.5],[35.3,-16.8],[35,-11.5]]],
    "ZWE": [[[25.3,-17.8],[28,-16.5],[30.3,-15.6],[32.8,-19],[31.3,-22.4],[29,-22.2],[26,-18.5]]],
    "BWA": [[[20,-18],[25.3,-17.8],[26,-18.5],[29,-22.2],[26.5,-24.7],[23,-25.3],[20,-24.8]]],
    "NAM": [[[11.8,-17.3],[18,-17.4],[25.3,-17.8],[20,-18],[20,-28.5],[17,-28.5],[15,-26.5],[14.4,-22.5]]],
    "ZAF": [[[17,-28.5],[20,-28.5],[20,-24.8],[23,-25.3],[26.5,-24.7],[29,-22.2],[31.3,-22.4],[32,-25],[32.8,-26],[32.5,-28.5],[30,-31.5],[25.7,-34],[20,-34.8],[18.4,-34],[18.2,-31.5]]],
    "LSO": [[[27.2,-29.6],[29,-28.7],[29.3,-30],[28,-30.6]]],
    "SWZ": [[[30.8,-26],[32,-25.8],[32,-27.2],[31,-27.2]]],
    "MDG": [[[43.3,-22],[44.4,-16.2],[49.3,-12],[50.4,-15.5],[47,-25],[45,-25.5]]],
    "MUS": [[[57.3,-20],[57.8,-20.2],[57.5,-20.6]], [[55.2,-21],[55.8,-21],[55.5,-21.4]]],
    "SYC": [[[55.3,-4.5],[55.6,-4.6],[55.4,-4.9]]],
    "CPV": [[[-25.3,17.2],[-24.8,16.9],[-25.2,16.7]], [[-23.8,15.3],[-23.4,15.1],[-23.7,14.9]]],
    "AUS": [[[113.5,-22],[114,-26],[115.7,-32],[115,-34.3],[118,-35],[124,-33],[129,-31.6],[134,-32.5],[137.7,-33],[138.5,-35.5],[141,-38.2],[146,-39],[150,-37.5],[153,-31],[153.5,-27],[149.5,-22],[146,-19],[145.3,-15],[142.6,-11],[141.5,-13.5],[140.8,-17.5],[136,-15.5],[136.8,-12.2],[130.8,-12.4],[129.5,-15],[126,-14],[122,-18],[117,-20.5]],
            [[144.7,-40.8],[148.2,-40.9],[147.5,-43.5],[146,-43.5]]],
    "NZL": [[[172.7,-34.5],[175.5,-36.7],[178.5,-37.7],[176.8,-40],[175,-41.5],[174,-39.2]], [[172.7,-40.5],[174.3,-41.7],[171,-45.5],[168.5,-46.6],[166.5,-46],[170.5,-43]]],
    "SLB": [[[157,-7],[160,-8.5],[161.5,-10],[159,-9]]],
    "VUT": [[[166.6,-15],[167.8,-15.5],[167.5,-16.5]]],
    "NCL": [[[164,-20],[167,-22],[166,-22.3]]],
    "FJI": [[[177.3,-17.5],[178.6,-17.7],[178,-18.4]]],
    "WSM": [[[-172.7,-13.5],[-171.5,-13.9],[-172.3,-14]]],
    "TON": [[[-175.3,-21.1],[-175,-21.2],[-175.2,-21.4]]],
    "KIR": [[[-157.6,1.9],[-157.2,1.8],[-157.5,1.6]]],
    "PYF": [[[-149.7,-17.5],[-149.2,-17.7],[-149.5,-17.9]]],
    "ATA": [[[-180,-84.5],[-165,-81],[-158,-78.5],[-150,-77],[-130,-74.5],[-110,-74],[-100,-73],[-85,-73],[-75,-72],[-68,-70],[-57.5,-63.3],[-62,-66],[-64,-69],[-60,-73],[-62,-75],[-60,-79],[-45,-80],[-35,-78],[-25,-75],[-15,-72],[-5,-71],[10,-70],[25,-70],[35,-69],[45,-66.5],[55,-66],[65,-67.5],[69,-72],[74,-69],[85,-66.5],[100,-66],[120,-66.5],[140,-66.5],[155,-69],[165,-71],[170,-72],[163,-77],[166,-82],[180,-84.5]]],
}


def clockwise(ring):
    # d3 wants outer rings clockwise
    area = 0
    for a, b in zip(ring, ring[1:] + ring[:1]):
        area += a[0] * b[1] - b[0] * a[1]
    if area > 0:
        ring = ring[::-1]
    return ring + [ring[0]]


features = []
for iso, rings in outlines.items():
    features.append({
        "type": "Feature",
        "id": iso,
        "properties": {},
        "geometry": {"type": "MultiPolygon", "coordinates": [[clockwise(r)] for r in rings]},
    })
world = {"type": "FeatureCollection", "features": features}

# dark classes first so small low-GDP countries stay on top
locations, z = [], []
for i in range(len(levels) - 1, -1, -1):
    for iso in levels[i]:
        locations.append(iso)
        z.append(i)

n = len(legend_colors)
colorscale = []
for i, c in enumerate(legend_colors):
    colorscale += [[i / n, c], [(i + 1) / n, c]]

fig = go.Figure(go.Choropleth(
    geojson=world,
    locations=locations,
    z=z,
    zmin=-0.5,
    zmax=n - 0.5,
    colorscale=colorscale,
    showscale=False,
    marker_line_color="#5f5f5f",
    marker_line_width=0.4,
))

fig.update_geos(
    projection_type="robinson",
    domain=dict(x=[58 / W, 690 / W], y=[(H - 475) / H, (H - 160) / H]),
    bgcolor=BG,
    showland=False, showocean=False, showlakes=False, showcountries=False,
    showcoastlines=False, showrivers=False, showsubunits=False,
    showframe=True, framecolor="#cfd2d2", framewidth=0.8,
    lonaxis=dict(range=[-180, 180], showgrid=True, dtick=30, gridcolor="#cfd2d2", gridwidth=0.8),
    lataxis=dict(range=[-87, 84], showgrid=True, dtick=20, gridcolor="#cfd2d2", gridwidth=0.8),
)

# legend strip above the map
shapes, annotations = [], []
for i, (label, color) in enumerate(zip(legend_labels, legend_colors)):
    x0 = 54 + i * 80.7
    shapes.append(dict(type="rect", xref="paper", yref="paper",
                       x0=x0 / W, x1=(x0 + 75.5) / W, y0=1 - 129 / H, y1=1 - 117 / H,
                       fillcolor=color, line=dict(color="#c4c8cc", width=0.7)))
    annotations.append(dict(text=label, x=(x0 + 37.7) / W, y=1 - 108 / H, xref="paper", yref="paper",
                            xanchor="center", yanchor="middle", showarrow=False,
                            font=dict(size=8.5, color="#111111", family=SERIF)))

texts = [
    ("2019 年世界各国 GDP 数据（现价美元）", 374, 61, 18.4, "#000000"),
    ("绘制：微信公众号 RStata", 374, 84, 12.4, "#111111"),
    ("数据来源：世界银行世界发展指标数据库", 374, 495, 9, "#8496bd"),
    ("&lt;http://databank.worldbank.org/data/download/WDI_csv.zip&gt;", 374, 506, 11, "#8496bd"),
]
for text, x, y, size, color in texts:
    annotations.append(dict(text=text, x=x / W, y=1 - y / H, xref="paper", yref="paper",
                            xanchor="center", yanchor="middle", showarrow=False,
                            font=dict(size=size, color=color, family=SERIF)))

fig.update_layout(
    width=W, height=H,
    margin=dict(l=0, r=0, t=0, b=0),
    paper_bgcolor=BG,
    shapes=shapes,
    annotations=annotations,
    font=dict(family=SERIF),
)

# plotly still asks for its base map, give it an empty one so nothing is fetched
empty_map = 'data:application/json,{"type":"Topology","objects":{},"arcs":[]}#'
fig.write_html("out.html", config={"topojsonURL": empty_map, "displayModeBar": False},
               post_script="document.body.style.margin = '0';")
